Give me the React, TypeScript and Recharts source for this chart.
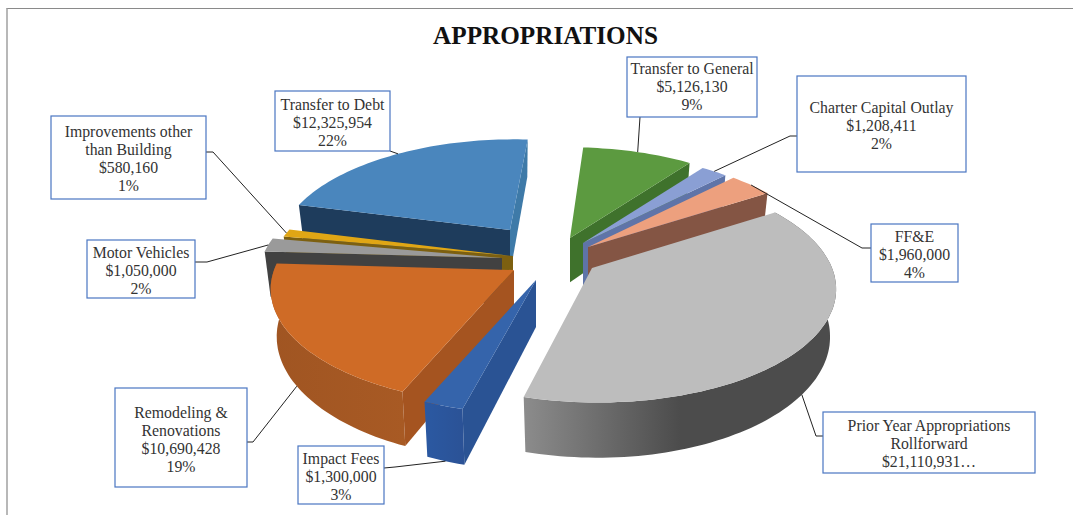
import React from "react";
import { PieChart, Pie } from "recharts";

const WIDTH = 1073;
const HEIGHT = 515;
const FONT = '"Liberation Serif", "Times New Roman", serif';

// values, clockwise from the top of the pie
const names = [
  "Transfer to General",
  "Charter Capital Outlay",
  "FF&E",
  "Prior Year Appropriations Rollforward",
  "Impact Fees",
  "Remodeling & Renovations",
  "Motor Vehicles",
  "Improvements other than Building",
  "Transfer to Debt",
];
const values = [5126130, 1208411, 1960000, 21110931, 1300000, 10690428, 1050000, 580160, 12325954];
const percents = ["9%", "2%", "4%", "", "3%", "19%", "2%", "1%", "22%"];
const data = names.map((name, i) => ({ name, value: values[i] }));

// the wrapped text of each callout
const nameLines = [
  ["Transfer to General"],
  ["Charter Capital Outlay"],
  ["FF&E"],
  ["Prior Year Appropriations", "Rollforward"],
  ["Impact Fees"],
  ["Remodeling &", "Renovations"],
  ["Motor Vehicles"],
  ["Improvements other", "than Building"],
  ["Transfer to Debt"],
];

// far slices first so nearer ones paint over them
const drawOrder = [0, 1, 2, 8, 7, 6, 5, 4, 3];

// how the exploded slices sit around the centre
const CX = 530;
const CY = 250;
const RADIUS = 240;
const explode = [
  [40, -12], [53, -7], [58, -3], [62, 18], [6, 30], [-16, 20], [-28, 8], [-17, 6], [-20, -20],
];
const shrink = [0.95, 0.95, 0.97, 1, 1, 1, 1, 1, 0.95];
const skew = [0, 0, 0, -0.04, 0, 0, 0, 0, 0.05];

const styles = [
  { top: "#5c9a40", face: "#3f722c", wall: ["#4a8434", "#4a8434"] },
  { top: "#8a9fd4", face: "#5f74a8", wall: ["#5f74a8", "#5f74a8"] },
  { top: "#eda07e", face: "#845544", wall: ["#845544", "#845544"] },
  { top: "#bdbdbd", face: "#777777", wall: ["#8c8c8c", "#4c4c4c"] },
  { top: "#3564ab", face: "#2a5394", wall: ["#2b59a2", "#2b5296"] },
  { top: "#cf6b26", face: "#a55420", wall: ["#a05522", "#a85a24"] },
  { top: "#9a9a9a", face: "#414141", wall: ["#414141", "#414141"] },
  { top: "#e0a615", face: "#7d6010", wall: ["#7d6010", "#7d6010"] },
  { top: "#4a86bd", face: "#1e3c5c", wall: ["#3e7aa8", "#3e7aa8"] },
];
const debtRightFace = "#3e7aa8";

// callout boxes: x, y, w, h, y of the first text line
const boxes = [
  [627, 57, 130, 60, 68],
  [797, 76, 169, 96, 107],
  [871, 224, 87, 58, 236],
  [823, 412, 212, 61, 425],
  [298, 446, 86, 58, 458],
  [115, 388, 132, 99, 412],
  [87, 240, 108, 58, 252],
  [51, 116, 155, 83, 131],
  [275, 91, 115, 60, 104],
];
// leader: where it leaves the box, then the elbow
const leaders = [
  [[640, 117]],
  [[797, 136], [790, 136]],
  [[871, 248], [862, 248]],
  [[823, 436], [816, 436]],
  [[384, 468], [395, 467]],
  [[247, 442], [253, 442]],
  [[195, 262], [207, 262]],
  [[206, 152], [213, 152]],
  [[390, 151]],
];
// leaders of the near slices end on the bottom edge of the wall
const leaderOnWall = [false, false, false, true, true, true, false, false, false];

const RAD = Math.PI / 180;
const RY_RATIO = 115 / 240;
const PERSPECTIVE = 0.17;

// theta: clockwise from the top of the pie, in degrees
const project = (i: number, rx: number, theta: number) => {
  const sin = Math.sin(theta * RAD);
  const cos = Math.cos(theta * RAD);
  const s = shrink[i] * (1 - PERSPECTIVE * cos);
  const dy = -cos * rx * RY_RATIO * s;
  return [CX + explode[i][0] + sin * rx * s - dy * skew[i], CY + explode[i][1] + dy];
};
const depthAt = (y: number) => 38 + ((y - 145) * 17) / 255;
const drop = (i: number, p: number[]) => {
  const ax = CX + explode[i][0];
  return [ax + (p[0] - ax) * 0.975, p[1] + depthAt(p[1])];
};
const toPath = (pts: number[][]) =>
  "M" + pts.map((p) => `${p[0].toFixed(1)},${p[1].toFixed(1)}`).join("L") + "Z";

const Slice3D = ({ i, outerRadius, startAngle, endAngle }: any) => {
  const t1 = 90 - startAngle;
  const t2 = 90 - endAngle;
  const apex = [CX + explode[i][0], CY + explode[i][1]];
  const arc: number[][] = [];
  const steps = Math.max(2, Math.ceil((t2 - t1) / 1.5));
  for (let k = 0; k <= steps; k++) {
    arc.push(project(i, outerRadius, t1 + ((t2 - t1) * k) / steps));
  }
  const first = arc[0];
  const last = arc[arc.length - 1];
  const style = styles[i];
  const gradId = `wall-${i}`;
  const showWall = Math.cos(t1 * RAD) < 0 || Math.cos(t2 * RAD) < 0;
  const bottomArc = arc.map((p) => drop(i, p)).reverse();
  return (
    <g>
      <defs>
        <linearGradient id={gradId} x1="0" y1="0" x2="1" y2="0">
          <stop offset="0%" stopColor={style.wall[0]} />
          <stop offset={i === 3 ? "50%" : "100%"} stopColor={style.wall[1]} />
        </linearGradient>
      </defs>
      {showWall && <path d={toPath([...arc, ...bottomArc])} fill={`url(#${gradId})`} />}
      {Math.sin(t1 * RAD) < 0 && (
        <path d={toPath([apex, first, drop(i, first), drop(i, apex)])} fill={style.face} />
      )}
      {Math.sin(t2 * RAD) > 0 && (
        <path
          d={toPath([apex, last, drop(i, last), drop(i, apex)])}
          fill={i === 8 ? debtRightFace : style.face}
        />
      )}
      <path d={toPath([apex, ...arc])} fill={style.top} />
    </g>
  );
};

const Callout = (props: any) => {
  const { name, midAngle, outerRadius } = props;
  const i = names.indexOf(name);
  const [x, y, w, h, textY] = boxes[i];
  const point = project(i, outerRadius, 90 - midAngle);
  const end = leaderOnWall[i] ? drop(i, point) : point;
  const money = `$${values[i].toLocaleString("en-US")}`;
  const lines = [...nameLines[i], i === 3 ? `${money}…` : money];
  if (percents[i]) lines.push(percents[i]);
  const line = [...leaders[i], end].map((p) => p.join(",")).join(" ");
  return (
    <g>
      <polyline points={line} fill="none" stroke="#222222" strokeWidth={1} />
      <rect x={x} y={y} width={w} height={h} fill="#ffffff" stroke="#4a76c2" strokeWidth={1.2} />
      {lines.map((text, k) => (
        <text
          key={k}
          x={x + w / 2}
          y={textY + k * 18.2}
          textAnchor="middle"
          dominantBaseline="central"
          fontFamily={FONT}
          fontSize={15.8}
          fill="#333333"
        >
          {text}
        </text>
      ))}
    </g>
  );
};

const pieProps = {
  data,
  dataKey: "value",
  nameKey: "name",
  cx: CX,
  cy: CY,
  outerRadius: RADIUS,
  startAngle: 86,
  endAngle: -274,
  stroke: "none",
  isAnimationActive: false,
};

export default function App() {
  return (
    <div style={{ position: "absolute", left: 0, top: 0, width: WIDTH, height: HEIGHT, overflow: "hidden", background: "#ffffff" }}>
      <div
        style={{
          position: "absolute",
          left: 6,
          top: 8,
          right: 0,
          bottom: 0,
          borderTop: "1px solid #8a8a8a",
          borderLeft: "2px solid #b8b8b8",
        }}
      />
      <div style={{ position: "absolute", left: 0, top: 0 }}>
        <PieChart width={WIDTH} height={HEIGHT} margin={{ top: 0, right: 0, bottom: 0, left: 0 }}>
          <text
            x={545.5}
            y={35}
            textAnchor="middle"
            dominantBaseline="central"
            fontFamily={FONT}
            fontWeight="bold"
            fontSize={25.2}
            fill="#111111"
          >
            APPROPRIATIONS
          </text>
          {drawOrder.map((i) => (
            <Pie
              key={i}
              {...pieProps}
              shape={(p: any) => (p.name === names[i] ? <Slice3D {...p} i={i} /> : <g />)}
            />
          ))}
          <Pie {...pieProps} shape={() => <g />} label={Callout} labelLine={false} />
        </PieChart>
      </div>
    </div>
  );
}
